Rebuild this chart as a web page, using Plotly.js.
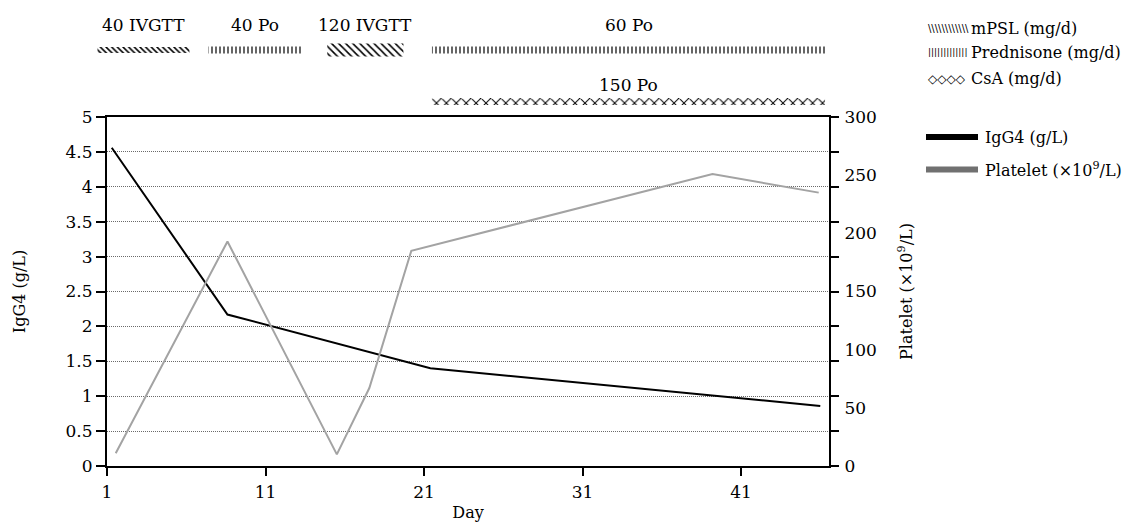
<!DOCTYPE html>
<html><head><meta charset="utf-8">
<script src="https://cdn.plot.ly/plotly-3.0.1.min.js"></script>
<style>html,body{margin:0;padding:0;background:#fff;} #chart{width:1123px;height:525px;}</style>
</head><body><div id="chart"></div>
<script>
// ---------------- data ----------------
const igg4Days = [1.3, 8.6, 21.4, 46.0];
const igg4Values = [4.56, 2.17, 1.40, 0.86];
const plateletDays = [1.55, 8.6, 15.5, 17.55, 20.2, 39.2, 45.9];
const plateletValues = [11, 193, 10, 67, 185, 251, 235];

const treatDrug = ['mPSL', 'Prednisone', 'mPSL', 'Prednisone', 'CsA'];
const treatDose = ['40 IVGTT', '40 Po', '120 IVGTT', '60 Po', '150 Po'];
const treatStart = [0.4, 7.4, 14.9, 21.5, 21.5];
const treatEnd = [6.2, 13.3, 19.7, 46.4, 46.3];

const xTickVals = [1, 11, 21, 31, 41];
const leftTickVals = [0, 0.5, 1, 1.5, 2, 2.5, 3, 3.5, 4, 4.5, 5];
const rightLabelVals = [0, 50, 100, 150, 200, 250, 300];
const rightTickMarks = [0, 30, 60, 90, 120, 150, 180, 210, 240, 270, 300];

const drugLegend = ['mPSL (mg/d)', 'Prednisone (mg/d)', 'CsA (mg/d)'];
const lineLegend = ['IgG4 (g/L)', 'Platelet (×10<sup>9</sup>/L)'];

// ---------------- geometry ----------------
const W = 1123, H = 525;
const M = {l: 90, r: 294, t: 14, b: 59};
const PW = W - M.l - M.r, PH = H - M.t - M.b;
const axL = 107, axR = 829, axT = 117, axB = 466;
const xRange = [1, 46.55];
const pxPerDay = (axR - axL) / (xRange[1] - xRange[0]);
const x2Range = [xRange[0] - (axL - M.l) / pxPerDay, xRange[1]];
const px2x = px => (px - M.l) / PW;
const py2y = py => (H - M.b - py) / PH;
const mainTop = py2y(axT);
const y4Domain = [0.78, 1];
const rowPx = [50, 101.5];           // steroid row, CsA row (pixel centres)
const rowGap = rowPx[1] - rowPx[0];
const y4TopPx = M.t, y4BotPx = H - M.b - y4Domain[0] * PH;
const y4Range = [(y4BotPx - rowPx[0]) / rowGap, (y4TopPx - rowPx[0]) / rowGap];

const drugStyle = {
  'mPSL':       {shape: '\\', size: [4, 5], sol: [0.38, 0.32], band: [6, 13]},
  'Prednisone': {shape: '|',  size: [4, 4], sol: [0.3, 0.3],  band: [7, 7]},
  'CsA':        {shape: 'x',  size: [7],    sol: [0.265],     band: [7]}
};
const rowOf = d => (d === 'CsA' ? 1 : 0);

const traces = [];
Object.keys(drugStyle).forEach(drug => {
  const st = drugStyle[drug];
  const idx = treatDrug.map((d, i) => d === drug ? i : -1).filter(i => i >= 0);
  traces.push({
    type: 'bar', orientation: 'h', xaxis: 'x2', yaxis: 'y4',
    y: idx.map(i => rowOf(treatDrug[i])),
    base: idx.map(i => treatStart[i]),
    x: idx.map(i => treatEnd[i] - treatStart[i]),
    width: idx.map((i, k) => st.band[k] / rowGap),
    marker: {color: 'white', line: {width: 0},
      pattern: {shape: st.shape, size: idx.map((i, k) => st.size[k]), solidity: idx.map((i, k) => st.sol[k]),
                fgcolor: 'black', bgcolor: 'white', fillmode: 'replace'}},
    hoverinfo: 'skip', showlegend: false
  });
});

traces.push({
  type: 'scatter', mode: 'lines', x: igg4Days, y: igg4Values, xaxis: 'x', yaxis: 'y',
  line: {color: 'black', width: 2}, name: 'IgG4', showlegend: false
});
traces.push({
  type: 'scatter', mode: 'lines', x: plateletDays, y: plateletValues, xaxis: 'x', yaxis: 'y2',
  line: {color: '#a3a3a3', width: 2}, name: 'Platelet', showlegend: false
});
traces.push({
  type: 'scatter', mode: 'none', x: plateletDays, y: plateletValues, xaxis: 'x', yaxis: 'y3',
  hoverinfo: 'skip', showlegend: false
});

const annotations = [];
treatDose.forEach((t, i) => {
  annotations.push({
    text: t, xref: 'x2', yref: 'paper',
    x: (treatStart[i] + treatEnd[i]) / 2, y: py2y(rowOf(treatDrug[i]) === 0 ? 25 : 85),
    showarrow: false, xanchor: 'center', yanchor: 'middle', font: {size: 17}
  });
});
const iconText = ['\\\\\\\\\\\\\\\\\\\\\\\\', '|||||||||||||', '◇◇◇◇'];
const iconSize = [10, 9, 12];
const legRowPx = [28, 52, 79];
drugLegend.forEach((t, i) => {
  annotations.push({text: iconText[i], xref: 'paper', yref: 'paper', x: px2x(926), y: py2y(legRowPx[i]),
    showarrow: false, xanchor: 'left', yanchor: 'middle', font: {size: iconSize[i], family: 'DejaVu Sans'}});
  annotations.push({text: t, xref: 'paper', yref: 'paper', x: px2x(969), y: py2y(legRowPx[i]),
    showarrow: false, xanchor: 'left', yanchor: 'middle', font: {size: 16}});
});
const lineRowPx = [137, 169.5];
const lineColors = ['black', '#707070'];
const shapes = [];
lineLegend.forEach((t, i) => {
  shapes.push({type: 'rect', xref: 'paper', yref: 'paper', x0: px2x(926), x1: px2x(978),
    y0: py2y(lineRowPx[i] - 3), y1: py2y(lineRowPx[i] + 3), fillcolor: lineColors[i], line: {width: 0}});
  annotations.push({text: t, xref: 'paper', yref: 'paper', x: px2x(983), y: py2y(lineRowPx[i]),
    showarrow: false, xanchor: 'left', yanchor: 'middle', font: {size: 16}});
});

const layout = {
  width: W, height: H, margin: M, showlegend: false, barmode: 'overlay',
  paper_bgcolor: 'white', plot_bgcolor: 'rgba(0,0,0,0)',
  font: {family: 'DejaVu Serif', color: 'black', size: 16},
  xaxis: {domain: [px2x(axL), 1], range: xRange, anchor: 'y', tickmode: 'array', tickvals: xTickVals,
    ticks: 'outside', ticklen: 8, tickwidth: 2, tickcolor: 'black', showline: true, linewidth: 2,
    linecolor: 'black', mirror: true, showgrid: false, zeroline: false, tickfont: {size: 17},
    ticklabelstandoff: 2, title: {text: 'Day', font: {size: 16}, standoff: 5}},
  yaxis: {domain: [0, mainTop], range: [0, 5], anchor: 'x', tickmode: 'array', tickvals: leftTickVals,
    ticks: 'outside', ticklen: 9, tickwidth: 2, tickcolor: 'black', showline: true, linewidth: 2,
    linecolor: 'black', showgrid: true, gridcolor: '#6a6a6a', griddash: '1px,1px', gridwidth: 1,
    zeroline: false, tickfont: {size: 17}, title: {text: 'IgG4 (g/L)', font: {size: 16}, standoff: 36}},
  yaxis2: {overlaying: 'y', side: 'right', anchor: 'x', range: [0, 300], tickmode: 'array',
    tickvals: rightTickMarks, ticks: 'outside', ticklen: 8, tickwidth: 2, tickcolor: 'black',
    showticklabels: false, showline: true, linewidth: 2, linecolor: 'black', showgrid: false, zeroline: false},
  yaxis3: {overlaying: 'y', side: 'right', anchor: 'x', range: [0, 300], tickmode: 'array',
    tickvals: rightLabelVals, ticks: 'outside', ticklen: 11, tickcolor: 'rgba(0,0,0,0)',
    showline: false, showgrid: false, zeroline: false, tickfont: {size: 17},
    title: {text: 'Platelet (×10<sup>9</sup>/L)', font: {size: 16}, standoff: 24}},
  xaxis2: {domain: [0, 1], range: x2Range, anchor: 'y4', visible: false},
  yaxis4: {domain: y4Domain, range: y4Range, anchor: 'x2', visible: false},
  annotations: annotations, shapes: shapes
};

Plotly.newPlot('chart', traces, layout, {displayModeBar: false, staticPlot: true});
</script></body></html>
